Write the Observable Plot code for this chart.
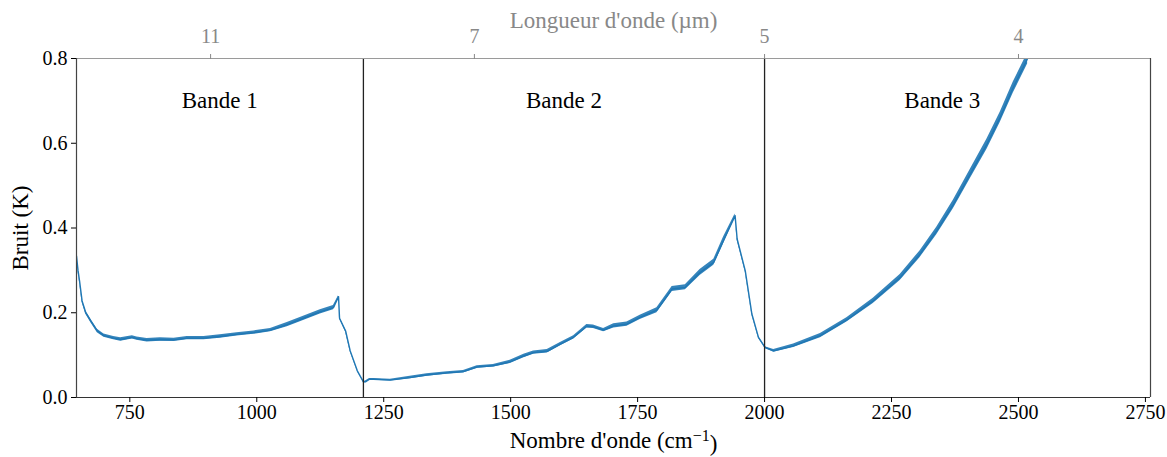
<!DOCTYPE html>
<html>
<head>
<meta charset="utf-8">
<script src="https://cdn.jsdelivr.net/npm/d3@7"></script>
<script src="https://cdn.jsdelivr.net/npm/@observablehq/plot@0.6"></script>
<style>
  html, body { margin: 0; padding: 0; background: #fff; }
  #chart { width: 1167px; height: 457px; }
</style>
</head>
<body>
<div id="chart"></div>
<script>
// ---- data ----
const wavenumber = [645, 648, 651, 656, 663, 673, 686, 699, 718, 732, 755, 764, 784, 810, 837, 863, 896, 928, 961, 994, 1027, 1060, 1092, 1125, 1151, 1161, 1163, 1175, 1184, 1198, 1210,
  1214, 1222, 1230, 1263, 1302, 1335, 1375, 1407, 1434, 1466, 1499, 1526, 1545, 1572, 1598, 1624, 1650, 1663, 1683, 1703, 1729, 1755, 1788, 1818, 1844, 1873, 1900, 1919, 1942, 1946, 1962, 1975, 1988, 2001,
  2018, 2057, 2110, 2162, 2214, 2267, 2306, 2339, 2372, 2405, 2438, 2464, 2490, 2518];
const bruit = [0.334, 0.300, 0.275, 0.228, 0.201, 0.181, 0.157, 0.146, 0.140, 0.137, 0.142, 0.139, 0.135, 0.137, 0.136, 0.140, 0.140, 0.144, 0.149, 0.153, 0.159, 0.172, 0.187, 0.202, 0.212, 0.238, 0.187, 0.157, 0.110, 0.063, 0.037,
  0.037, 0.043, 0.043, 0.041, 0.047, 0.053, 0.058, 0.061, 0.072, 0.075, 0.084, 0.098, 0.106, 0.109, 0.126, 0.142, 0.168, 0.167, 0.159, 0.169, 0.173, 0.189, 0.206, 0.256, 0.260, 0.295, 0.319, 0.370, 0.429, 0.374, 0.299, 0.197, 0.142, 0.118,
  0.110, 0.122, 0.146, 0.183, 0.228, 0.283, 0.338, 0.393, 0.456, 0.527, 0.598, 0.661, 0.732, 0.800];
// half-width of the noisy band around the curve (K)
const spread = [0.002, 0.003, 0.003, 0.004, 0.004, 0.004, 0.004, 0.004, 0.004, 0.004, 0.004, 0.004, 0.004, 0.004, 0.004, 0.004, 0.004, 0.004, 0.004, 0.004, 0.004, 0.005, 0.005, 0.005, 0.005, 0.002, 0.002, 0.003, 0.002, 0.001, 0.001,
  0.002, 0.002, 0.002, 0.002, 0.003, 0.003, 0.003, 0.003, 0.003, 0.003, 0.004, 0.004, 0.004, 0.004, 0.004, 0.004, 0.004, 0.004, 0.004, 0.005, 0.005, 0.005, 0.006, 0.006, 0.006, 0.007, 0.007, 0.008, 0.004, 0.003, 0.003, 0.002, 0.002, 0.002,
  0.003, 0.004, 0.005, 0.005, 0.006, 0.007, 0.008, 0.009, 0.010, 0.011, 0.012, 0.012, 0.013, 0.013];

const xTickValues = [750, 1000, 1250, 1500, 1750, 2000, 2250, 2500, 2750];
const yTickValues = [0.0, 0.2, 0.4, 0.6, 0.8];
const topTickWavelengths = [11, 7, 5, 4];   // µm
const xDomain = [645, 2760];
const yDomain = [0, 0.8];
const bandEdges = [1210, 2000];
const bandLabels = ["Bande 1", "Bande 2", "Bande 3"];
const bandLabelX = [927, 1605, 2350];
const bandLabelY = [0.7, 0.7, 0.7];
const xTitle = "Nombre d'onde (cm";
const yTitle = "Bruit (K)";
const topTitle = "Longueur d'onde (µm)";

// ---- build tables ----
const data = wavenumber.map((x, i) => ({x, y: bruit[i], lo: bruit[i] - spread[i], hi: bruit[i] + spread[i]}));
const labels = bandLabels.map((t, i) => ({t, x: bandLabelX[i], y: bandLabelY[i]}));

const blue = "#1f77b4";
const chart = Plot.plot({
  width: 1167,
  height: 457,
  marginLeft: 76,
  marginRight: 17,
  marginTop: 58,
  marginBottom: 60,
  style: {fontFamily: "'Liberation Serif', 'Times New Roman', serif", fontSize: "20px", background: "#fff", color: "#000"},
  x: {domain: xDomain},
  y: {domain: yDomain},
  marks: [
    Plot.areaY(data, {x: "x", y1: "lo", y2: "hi", fill: blue, fillOpacity: 0.9, clip: true}),
    Plot.line(data, {x: "x", y: "y", stroke: blue, strokeWidth: 1.4, clip: true}),
    Plot.ruleX(bandEdges, {stroke: "#222", strokeWidth: 1.3}),
    Plot.ruleY([yDomain[1]], {stroke: "#9a9a9a", strokeWidth: 1.2}),
    Plot.ruleY([yDomain[0]], {stroke: "#333", strokeWidth: 1.2}),
    Plot.ruleX(xDomain, {stroke: "#444", strokeWidth: 1.2}),
    Plot.axisX({anchor: "bottom", ticks: xTickValues, tickSize: 5, tickPadding: 2, label: null, tickFormat: d => String(d), fontSize: 20}),
    Plot.axisY({anchor: "left", ticks: yTickValues, tickSize: 5, tickPadding: 4, label: null, tickFormat: d3.format(".1f"), fontSize: 20}),
    Plot.axisX({anchor: "top", ticks: topTickWavelengths.map(l => 1e4 / l), tickFormat: d => String(Math.round(1e4 / d)),
      tickSize: 5, tickPadding: 11, label: null, stroke: "#888", fill: "#888", fontSize: 20}),
    Plot.text(labels, {x: "x", y: "y", text: "t", fontSize: 23, fill: "#000"}),
    Plot.text([yTitle], {frameAnchor: "left", dx: -56, rotate: -90, textAnchor: "middle", lineAnchor: "middle", fontSize: 23, fill: "#000"}),
    Plot.text([topTitle], {frameAnchor: "top", dy: -38, textAnchor: "middle", lineAnchor: "middle", fontSize: 23, fill: "#888"}),
    Plot.text([xTitle], {frameAnchor: "bottom", dy: 43, textAnchor: "middle", lineAnchor: "middle", fontSize: 23, fill: "#000"})
  ]
});
document.getElementById("chart").appendChild(chart);

// superscript for cm^-1
d3.select(chart).selectAll("text").filter(function () { return this.textContent === xTitle; })
  .each(function () {
    const t = d3.select(this);
    t.append("tspan").attr("dy", "-0.45em").attr("font-size", "16px").text("−1");
    t.append("tspan").attr("dy", "0.45em").text(")");
  });
</script>
</body>
</html>
